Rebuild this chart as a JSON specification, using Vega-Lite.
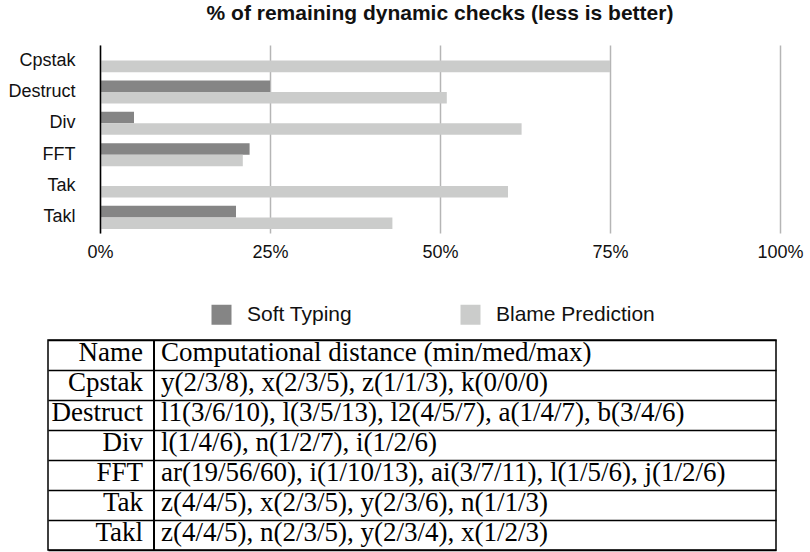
{
  "$schema": "https://vega.github.io/schema/vega-lite/v6.json",
  "background": "white",
  "padding": {"left": 0, "top": 3, "right": 0, "bottom": 0},
  "spacing": 13,
  "config": {"view": {"stroke": null}, "font": "Liberation Sans"},
  "resolve": {"scale": {"color": "independent"}, "legend": {"color": "independent"}},
  "vconcat": [
    {
      "title": {"text": "% of remaining dynamic checks (less is better)", "fontSize": 21, "font": "Liberation Sans", "fontWeight": "bold", "anchor": "middle", "frame": "group", "offset": 21, "dx": 26, "color": "#111"},
      "width": 732,
      "height": 188,
      "data": {"values": [
        {"Name": "Cpstak", "Series": "Soft Typing", "Value": 0},
        {"Name": "Cpstak", "Series": "Blame Prediction", "Value": 75},
        {"Name": "Destruct", "Series": "Soft Typing", "Value": 25},
        {"Name": "Destruct", "Series": "Blame Prediction", "Value": 51},
        {"Name": "Div", "Series": "Soft Typing", "Value": 5},
        {"Name": "Div", "Series": "Blame Prediction", "Value": 62},
        {"Name": "FFT", "Series": "Soft Typing", "Value": 22},
        {"Name": "FFT", "Series": "Blame Prediction", "Value": 21},
        {"Name": "Tak", "Series": "Soft Typing", "Value": 0},
        {"Name": "Tak", "Series": "Blame Prediction", "Value": 60},
        {"Name": "Takl", "Series": "Soft Typing", "Value": 20},
        {"Name": "Takl", "Series": "Blame Prediction", "Value": 43}
      ]},
      "mark": {"type": "bar"},
      "encoding": {
        "y": {"field": "Name", "type": "nominal", "sort": ["Cpstak", "Destruct", "Div", "FFT", "Tak", "Takl"],
              "scale": {"paddingInner": 0.265, "paddingOuter": 0.13},
              "axis": {"title": null, "offset": -52, "domainColor": "black", "domainWidth": 1.5, "ticks": false, "tickSize": 0, "labelPadding": 25, "labelFontSize": 18, "labelFont": "Liberation Sans", "labelColor": "#111", "minExtent": 0, "zindex": 1, "grid": false}},
        "yOffset": {"field": "Series", "type": "nominal", "sort": ["Soft Typing", "Blame Prediction"], "scale": {"paddingInner": 0, "paddingOuter": 0}},
        "x": {"field": "Value", "type": "quantitative", "scale": {"domain": [0, 100], "range": [52, 732]},
              "axis": {"title": null, "values": [0, 25, 50, 75, 100], "labelExpr": "datum.value + '%'", "domain": false, "ticks": false, "tickSize": 0, "labelPadding": 10, "labelFontSize": 18, "labelFont": "Liberation Sans", "labelColor": "#111", "grid": true, "gridColor": "#b5b5b5", "gridWidth": 1.5, "labelFlush": false}},
        "color": {"field": "Series", "type": "nominal", "sort": ["Soft Typing", "Blame Prediction"],
                  "scale": {"domain": ["Soft Typing", "Blame Prediction"], "range": ["#858585", "#cbcccb"]},
                  "legend": {"title": null, "orient": "none", "direction": "horizontal", "legendX": 163, "legendY": 259, "symbolType": "square", "symbolSize": 400, "symbolStrokeWidth": 0, "symbolOpacity": 1, "labelFontSize": 21, "labelFont": "Liberation Sans", "labelColor": "#111", "labelOffset": 15, "columnPadding": 107, "padding": 0}}
      }
    },
    {
      "width": 728,
      "height": 210,
      "view": {"stroke": "black", "strokeWidth": 1.5},
      "data": {"values": [
        {"Name": "Name", "Distance": "Computational distance (min/med/max)"},
        {"Name": "Cpstak", "Distance": "y(2/3/8), x(2/3/5), z(1/1/3), k(0/0/0)"},
        {"Name": "Destruct", "Distance": "l1(3/6/10), l(3/5/13), l2(4/5/7), a(1/4/7), b(3/4/6)"},
        {"Name": "Div", "Distance": "l(1/4/6), n(1/2/7), i(1/2/6)"},
        {"Name": "FFT", "Distance": "ar(19/56/60), i(1/10/13), ai(3/7/11), l(1/5/6), j(1/2/6)"},
        {"Name": "Tak", "Distance": "z(4/4/5), x(2/3/5), y(2/3/6), n(1/1/3)"},
        {"Name": "Takl", "Distance": "z(4/4/5), n(2/3/5), y(2/3/4), x(1/2/3)"}
      ]},
      "layer": [
        {"mark": {"type": "text", "align": "right", "font": "Liberation Serif", "fontSize": 27, "color": "black", "dy": -2},
         "encoding": {
           "y": {"field": "Name", "type": "nominal", "sort": null,
                 "scale": {"paddingInner": 0, "paddingOuter": 0},
                 "axis": {"title": null, "labels": false, "ticks": false, "domain": false, "grid": true, "tickBand": "extent", "bandPosition": 0, "gridColor": "black", "gridWidth": 1.5, "minExtent": 47, "maxExtent": 47}},
           "x": {"datum": 0.1305, "type": "quantitative", "scale": {"domain": [0, 1]}, "axis": null},
           "text": {"field": "Name"}}},
        {"mark": {"type": "text", "align": "left", "font": "Liberation Serif", "fontSize": 27, "color": "black", "dy": -2},
         "encoding": {
           "y": {"field": "Name", "type": "nominal", "sort": null,
                 "axis": {"title": null, "labels": false, "ticks": false, "domain": false, "grid": true, "tickBand": "extent", "bandPosition": 0, "gridColor": "black", "gridWidth": 1.5, "minExtent": 47, "maxExtent": 47}},
           "x": {"datum": 0.1552, "type": "quantitative"},
           "text": {"field": "Distance"}}},
        {"mark": {"type": "rule", "color": "black", "strokeWidth": 1.5},
         "encoding": {"x": {"datum": 0.1456, "type": "quantitative"}}}
      ]
    }
  ]
}
